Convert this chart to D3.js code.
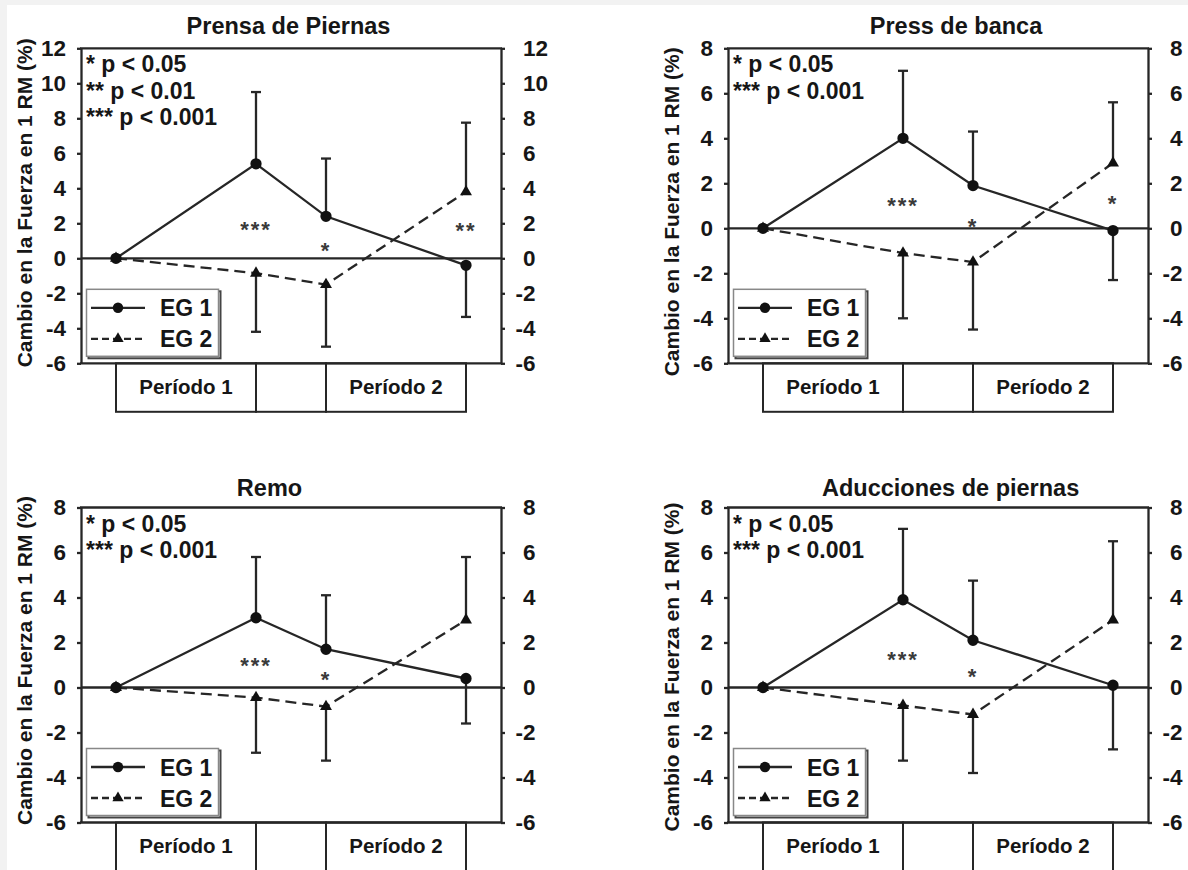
<!DOCTYPE html>
<html>
<head>
<meta charset="utf-8">
<script src="https://cdn.jsdelivr.net/npm/d3@7/dist/d3.min.js"></script>
<style>
	body { margin: 0; background: #f2f2f2; }
	svg { display: block; }
	text { font-family: "Liberation Sans", Arial, sans-serif; font-weight: bold; fill: #161616; }
</style>
</head>
<body>
<svg id="chart" width="1188" height="870"></svg>
<script>
// ---- data ----
var timePoints = [ 0, 2, 3, 5 ];
var periodBounds = [ 0, 2, 3, 5 ];
var periodLabels = [ 'Período 1', '', 'Período 2' ];
var legendLabels = [ 'EG 1', 'EG 2' ];
var yLabel = 'Cambio en la Fuerza en 1 RM (%)';

var ticksPrensa = [ -6, -4, -2, 0, 2, 4, 6, 8, 10, 12 ];
var ticksOther = [ -6, -4, -2, 0, 2, 4, 6, 8 ];

var prensaEG1 = [ 0, 5.4, 2.4, -0.4 ];
var prensaEG1Err = [ 0, 4.1, 3.3, 2.95 ];
var prensaEG2 = [ 0, -0.85, -1.5, 3.8 ];
var prensaEG2Err = [ 0, 3.35, 3.55, 3.95 ];
var prensaStars = [ '', '***', '*', '**' ];
var prensaStarAt = [ 0, 1.9, 0.7, 1.85 ];
var prensaNotes = [ '* p < 0.05', '** p < 0.01', '*** p < 0.001' ];

var bancaEG1 = [ 0, 4.0, 1.9, -0.1 ];
var bancaEG1Err = [ 0, 3.0, 2.4, 2.2 ];
var bancaEG2 = [ 0, -1.1, -1.5, 2.9 ];
var bancaEG2Err = [ 0, 2.9, 3.0, 2.7 ];
var bancaStars = [ '', '***', '*', '*' ];
var bancaStarAt = [ 0, 1.2, 0.3, 1.3 ];
var bancaNotes = [ '* p < 0.05', '*** p < 0.001' ];

var remoEG1 = [ 0, 3.1, 1.7, 0.4 ];
var remoEG1Err = [ 0, 2.7, 2.4, 2.0 ];
var remoEG2 = [ 0, -0.45, -0.85, 3.0 ];
var remoEG2Err = [ 0, 2.45, 2.4, 2.8 ];
var remoStars = [ '', '***', '*', '' ];
var remoStarAt = [ 0, 1.2, 0.55, 0 ];
var remoNotes = [ '* p < 0.05', '*** p < 0.001' ];

var aducEG1 = [ 0, 3.9, 2.1, 0.1 ];
var aducEG1Err = [ 0, 3.15, 2.65, 2.85 ];
var aducEG2 = [ 0, -0.8, -1.2, 3.0 ];
var aducEG2Err = [ 0, 2.45, 2.6, 3.5 ];
var aducStars = [ '', '***', '*', '' ];
var aducStarAt = [ 0, 1.45, 0.7, 0 ];
var aducNotes = [ '* p < 0.05', '*** p < 0.001' ];

var panels = [
	{ title: 'Prensa de Piernas', ticks: ticksPrensa, eg1: prensaEG1, eg1Err: prensaEG1Err, eg2: prensaEG2, eg2Err: prensaEG2Err, stars: prensaStars, starAt: prensaStarAt, notes: prensaNotes },
	{ title: 'Press de banca', ticks: ticksOther, eg1: bancaEG1, eg1Err: bancaEG1Err, eg2: bancaEG2, eg2Err: bancaEG2Err, stars: bancaStars, starAt: bancaStarAt, notes: bancaNotes },
	{ title: 'Remo', ticks: ticksOther, eg1: remoEG1, eg1Err: remoEG1Err, eg2: remoEG2, eg2Err: remoEG2Err, stars: remoStars, starAt: remoStarAt, notes: remoNotes },
	{ title: 'Aducciones de piernas', ticks: ticksOther, eg1: aducEG1, eg1Err: aducEG1Err, eg2: aducEG2, eg2Err: aducEG2Err, stars: aducStars, starAt: aducStarAt, notes: aducNotes }
];

// ---- layout ----
var W = 420, H = 315, BOX_H = 48.5;
var layout = [
	{ left: 81, top: 48.3, titleDx: -2.5, titleY: -14, labelDy: -3 },
	{ left: 728, top: 48.3, titleDx: 18, titleY: -14, labelDy: 6 },
	{ left: 81, top: 507.5, titleDx: -21.5, titleY: -12, labelDy: -4.5 },
	{ left: 728, top: 507.5, titleDx: 12.6, titleY: -12, labelDy: 2 }
];
var INK = '#262626';
var SW = 2.3;

var svg = d3.select( '#chart' );
svg.append( 'rect' )
	.attr( 'x', 7 ).attr( 'y', 5 )
	.attr( 'width', 1181 ).attr( 'height', 865 )
	.attr( 'fill', '#fff' );

panels.forEach( function( p, i ) {
	var cfg = layout[ i ];
	var g = svg.append( 'g' ).attr( 'transform', 'translate(' + cfg.left + ',' + cfg.top + ')' );

	var x = d3.scaleLinear().domain( [ -0.5, 5.5 ] ).range( [ 0, W ] );
	var y = d3.scaleLinear().domain( d3.extent( p.ticks ) ).range( [ H, 0 ] );

	// period boxes under the plot
	periodLabels.forEach( function( lab, k ) {
		var x0 = x( periodBounds[ k ] ), x1 = x( periodBounds[ k + 1 ] );
		g.append( 'rect' )
			.attr( 'x', x0 ).attr( 'y', H )
			.attr( 'width', x1 - x0 ).attr( 'height', BOX_H )
			.style( 'fill', 'none' ).style( 'stroke', INK ).style( 'stroke-width', 2 );
		if ( lab ) {
			g.append( 'text' )
				.attr( 'x', ( x0 + x1 ) / 2 ).attr( 'y', H + 30.5 )
				.attr( 'text-anchor', 'middle' )
				.style( 'font-size', '20.5px' )
				.text( lab );
		}
	} );

	// zero line
	g.append( 'line' )
		.attr( 'x1', 0 ).attr( 'x2', W )
		.attr( 'y1', y( 0 ) ).attr( 'y2', y( 0 ) )
		.style( 'stroke', INK ).style( 'stroke-width', SW );

	// axes (plain hyphen for negatives, as in the figure)
	var fmt = function( d ) { return String( d ); };
	var left = g.append( 'g' )
		.call( d3.axisLeft( y ).tickValues( p.ticks ).tickSize( 4 ).tickSizeOuter( 0 ).tickPadding( 11 ).tickFormat( fmt ) );
	var right = g.append( 'g' ).attr( 'transform', 'translate(' + W + ',0)' )
		.call( d3.axisRight( y ).tickValues( p.ticks ).tickSize( 4 ).tickSizeOuter( 0 ).tickPadding( 18 ).tickFormat( fmt ) );
	right.selectAll( 'text' ).attr( 'dx', function( d ) { return d < 0 ? '-0.33em' : 0; } );
	[ left, right ].forEach( function( ax ) {
		ax.selectAll( 'path, line' ).style( 'stroke', INK ).style( 'stroke-width', SW );
		ax.selectAll( 'text' ).style( 'font-size', '22.5px' ).style( 'fill', '#161616' )
			.style( 'font-family', '"Liberation Sans", Arial, sans-serif' );
	} );
	g.append( 'line' )
		.attr( 'x1', -1 ).attr( 'x2', W + 1 ).attr( 'y1', 0 ).attr( 'y2', 0 )
		.style( 'stroke', INK ).style( 'stroke-width', SW );
	g.append( 'line' )
		.attr( 'x1', -1 ).attr( 'x2', W + 1 ).attr( 'y1', H ).attr( 'y2', H )
		.style( 'stroke', INK ).style( 'stroke-width', SW );

	// series
	var series = [
		{ vals: p.eg1, errs: p.eg1Err, other: p.eg2, dash: null, marker: 'circle' },
		{ vals: p.eg2, errs: p.eg2Err, other: p.eg1, dash: '11,6', marker: 'triangle' }
	];
	var line = d3.line()
		.x( function( d, k ) { return x( timePoints[ k ] ); } )
		.y( function( d ) { return y( d ); } );

	series.forEach( function( s ) {
		// error bars point away from the other group
		s.vals.forEach( function( v, k ) {
			if ( !s.errs[ k ] ) return;
			var dir = v >= s.other[ k ] ? 1 : -1;
			var end = v + dir * s.errs[ k ];
			var cx = x( timePoints[ k ] );
			g.append( 'line' )
				.attr( 'x1', cx ).attr( 'x2', cx ).attr( 'y1', y( v ) ).attr( 'y2', y( end ) )
				.style( 'stroke', INK ).style( 'stroke-width', SW );
			g.append( 'line' )
				.attr( 'x1', cx - 5 ).attr( 'x2', cx + 5 ).attr( 'y1', y( end ) ).attr( 'y2', y( end ) )
				.style( 'stroke', INK ).style( 'stroke-width', SW );
		} );
		g.append( 'path' )
			.datum( s.vals )
			.attr( 'd', line )
			.style( 'fill', 'none' ).style( 'stroke', INK ).style( 'stroke-width', SW )
			.style( 'stroke-dasharray', s.dash );
	} );

	series.forEach( function( s ) {
		var sym = d3.symbol().type( s.marker == 'circle' ? d3.symbolCircle : d3.symbolTriangle ).size( s.marker == 'circle' ? 100 : 62 );
		g.selectAll( null ).data( s.vals ).enter().append( 'path' )
			.attr( 'd', sym )
			.attr( 'transform', function( d, k ) { return 'translate(' + x( timePoints[ k ] ) + ',' + y( d ) + ')'; } )
			.style( 'fill', '#111' );
	} );

	// significance stars
	p.stars.forEach( function( st, k ) {
		if ( !st ) return;
		g.append( 'text' )
			.attr( 'x', x( timePoints[ k ] ) ).attr( 'y', y( p.starAt[ k ] ) + 12 )
			.attr( 'text-anchor', 'middle' )
			.style( 'font-size', '22px' ).style( 'letter-spacing', '2px' ).style( 'fill', '#3a3a3a' )
			.text( st );
	} );

	// p-value notes
	p.notes.forEach( function( n, k ) {
		g.append( 'text' )
			.attr( 'x', 5 ).attr( 'y', 24 + k * 26.5 )
			.style( 'font-size', '23px' )
			.text( n );
	} );

	// legend
	var lg = g.append( 'g' ).attr( 'transform', 'translate(5.5,' + ( H - 74 ) + ')' );
	lg.append( 'rect' ).attr( 'x', 2 ).attr( 'y', 2 ).attr( 'width', 132 ).attr( 'height', 67 )
		.style( 'fill', 'none' ).style( 'stroke', '#444' ).style( 'stroke-width', 2 );
	lg.append( 'rect' ).attr( 'width', 132 ).attr( 'height', 67 )
		.style( 'fill', '#fff' ).style( 'stroke', '#888' ).style( 'stroke-width', 1.5 );
	legendLabels.forEach( function( lab, k ) {
		var ly = 18.5 + k * 31;
		lg.append( 'line' )
			.attr( 'x1', 4.5 ).attr( 'x2', 58.5 ).attr( 'y1', ly ).attr( 'y2', ly )
			.style( 'stroke', INK ).style( 'stroke-width', SW )
			.style( 'stroke-dasharray', k ? '7,4' : null );
		lg.append( 'path' )
			.attr( 'd', d3.symbol().type( k ? d3.symbolTriangle : d3.symbolCircle ).size( k ? 55 : 85 ) )
			.attr( 'transform', 'translate(31.5,' + ly + ')' )
			.style( 'fill', '#111' );
		lg.append( 'text' )
			.attr( 'x', 73.5 ).attr( 'y', ly + 8.5 )
			.style( 'font-size', '23px' )
			.text( lab );
	} );

	// title
	g.append( 'text' )
		.attr( 'x', W / 2 + cfg.titleDx ).attr( 'y', cfg.titleY )
		.attr( 'text-anchor', 'middle' )
		.style( 'font-size', '23.5px' )
		.text( p.title );

	// y label
	g.append( 'text' )
		.attr( 'transform', 'translate(-49,' + ( H / 2 + cfg.labelDy ) + ') rotate(-90)' )
		.attr( 'text-anchor', 'middle' )
		.style( 'font-size', '21px' )
		.text( yLabel );
} );
</script>
</body>
</html>
